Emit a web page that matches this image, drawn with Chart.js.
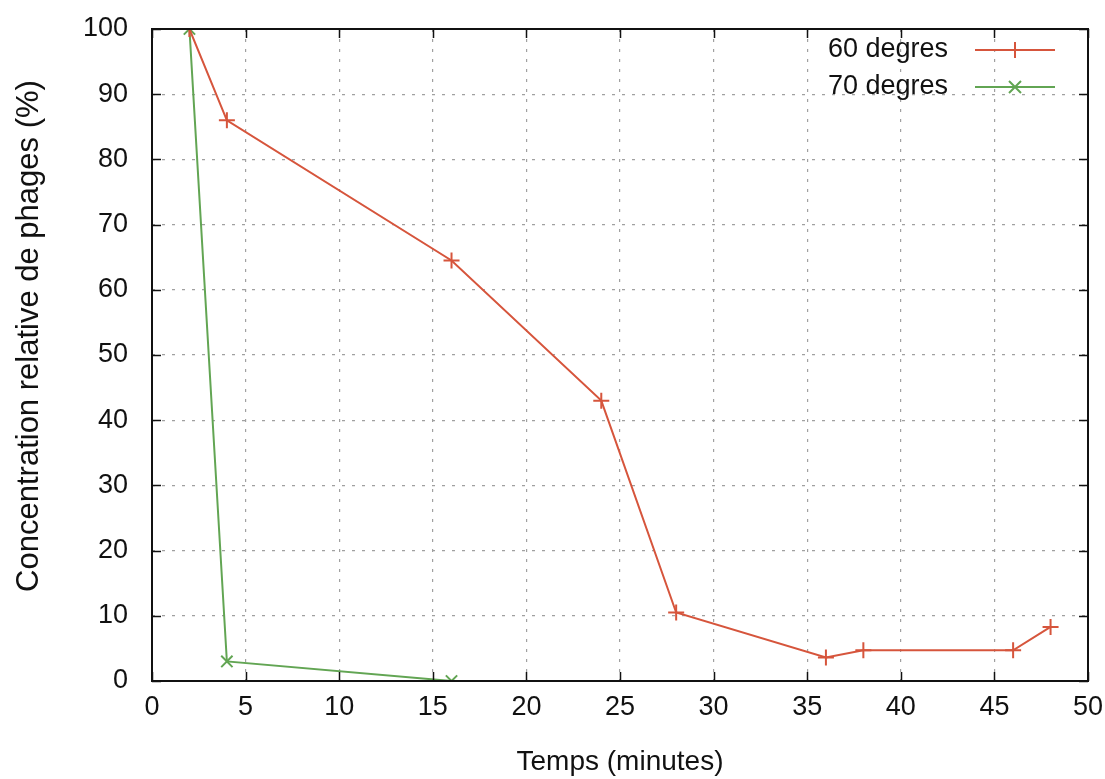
<!DOCTYPE html>
<html><head><meta charset="utf-8">
<script src="https://cdn.jsdelivr.net/npm/chart.js@4"></script>
<style>html,body{margin:0;padding:0;background:#fff}#wrap{width:1105px;height:779px}</style>
</head><body><div id="wrap"><canvas id="c" width="1105" height="779"></canvas></div>
<script>
const xTicks = [0,5,10,15,20,25,30,35,40,45,50];
const yTicks = [0,10,20,30,40,50,60,70,80,90,100];
const seriesNames = ['60 degres','70 degres'];
const t60 = [2,4,16,24,28,36,38,46,48];
const c60 = [100,86,64.5,43,10.5,3.6,4.7,4.7,8.3];
const t70 = [2,4,16];
const c70 = [100,3,0];
const xTitle = 'Temps (minutes)';
const yTitle = 'Concentration relative de phages (%)';

const FONT = '"Liberation Sans", Arial, sans-serif';
const RED = '#d6553c', GREEN = '#62a553';

const frame = {
  id: 'frame',
  afterDraw(chart){
    const {ctx, chartArea:a, scales:{x,y}} = chart;
    ctx.save();
    ctx.strokeStyle = '#111'; ctx.lineWidth = 2;
    ctx.strokeRect(a.left, a.top, a.right-a.left, a.bottom-a.top);
    ctx.lineWidth = 1.5;
    const L = 9;
    ctx.beginPath();
    xTicks.forEach(v=>{const p=Math.round(x.getPixelForValue(v))+0.5;
      ctx.moveTo(p,a.bottom); ctx.lineTo(p,a.bottom-L);
      ctx.moveTo(p,a.top); ctx.lineTo(p,a.top+L);});
    yTicks.forEach(v=>{const p=Math.round(y.getPixelForValue(v))+0.5;
      ctx.moveTo(a.left,p); ctx.lineTo(a.left+L,p);
      ctx.moveTo(a.right,p); ctx.lineTo(a.right-L,p);});
    ctx.stroke();
    // y title
    ctx.save();
    ctx.translate(29, 336); ctx.rotate(-Math.PI/2);
    ctx.font = '31px ' + FONT; ctx.fillStyle = '#111';
    ctx.textAlign = 'center'; ctx.textBaseline = 'middle';
    ctx.fillText(yTitle, 0, 0);
    ctx.restore();
    // legend
    ctx.font = '27px ' + FONT;
    ctx.textAlign = 'right'; ctx.textBaseline = 'middle';
    chart.data.datasets.forEach((ds,i)=>{
      const cy = a.top + 21 + i*37;
      ctx.fillStyle = '#111';
      ctx.fillText(ds.label, a.right-140, cy);
      ctx.strokeStyle = ds.borderColor; ctx.lineWidth = 2;
      ctx.beginPath(); ctx.moveTo(a.right-113, cy); ctx.lineTo(a.right-33, cy); ctx.stroke();
      const mx = a.right-73, r=8;
      ctx.beginPath();
      if(ds.pointStyle==='cross'){ctx.moveTo(mx,cy-r);ctx.lineTo(mx,cy+r);ctx.moveTo(mx-r,cy);ctx.lineTo(mx+r,cy);}
      else{const d=r*0.75;ctx.moveTo(mx-d,cy-d);ctx.lineTo(mx+d,cy+d);ctx.moveTo(mx-d,cy+d);ctx.lineTo(mx+d,cy-d);}
      ctx.stroke();
    });
    ctx.restore();
  }
};

const zeroPad = s => { s.paddingTop = 0; s.paddingBottom = 0; s.paddingLeft = 0; s.paddingRight = 0; };

new Chart(document.getElementById('c'), {
  type: 'line',
  data: {
    datasets: [
      {label: seriesNames[0], data: t60.map((t,i)=>({x:t,y:c60[i]})), borderColor: RED, backgroundColor: RED,
       borderWidth: 2, pointStyle: 'cross', pointRadius: 8, pointBorderWidth: 2, tension: 0},
      {label: seriesNames[1], data: t70.map((t,i)=>({x:t,y:c70[i]})), borderColor: GREEN, backgroundColor: GREEN,
       borderWidth: 2, pointStyle: 'crossRot', pointRadius: 8, pointBorderWidth: 2, tension: 0}
    ]
  },
  options: {
    responsive: false, animation: false,
    layout: {padding: {top: 29, right: 17, left: 0, bottom: 0}},
    plugins: {legend: {display: false}, tooltip: {enabled: false}},
    scales: {
      x: {type: 'linear', min: 0, max: 50,
        afterBuildTicks: s => { s.ticks = xTicks.map(v=>({value:v})); },
        afterFit: s => { s.height = 98; zeroPad(s); },
        ticks: {color: '#111', font: {size: 27, family: FONT}, padding: 10, maxRotation: 0},
        grid: {color: ctx => (ctx.tick && (ctx.tick.value===0||ctx.tick.value===50)) ? 'rgba(0,0,0,0)' : '#a0a0a0', drawTicks: false, lineWidth: 1.2},
        border: {display: false, dash: [3,7]},
        title: {display: true, text: xTitle, color: '#111', font: {size: 28, family: FONT}, padding: {top: 13, bottom: 0}}
      },
      y: {type: 'linear', min: 0, max: 100,
        afterBuildTicks: s => { s.ticks = yTicks.map(v=>({value:v})); },
        afterFit: s => { s.width = 152; zeroPad(s); },
        ticks: {color: '#111', font: {size: 27, family: FONT}, padding: 24},
        grid: {color: ctx => (ctx.tick && (ctx.tick.value===0||ctx.tick.value===100)) ? 'rgba(0,0,0,0)' : '#a0a0a0', drawTicks: false, lineWidth: 1.2},
        border: {display: false, dash: [3,7]},
        title: {display: false}
      }
    }
  },
  plugins: [frame]
});
</script></body></html>
